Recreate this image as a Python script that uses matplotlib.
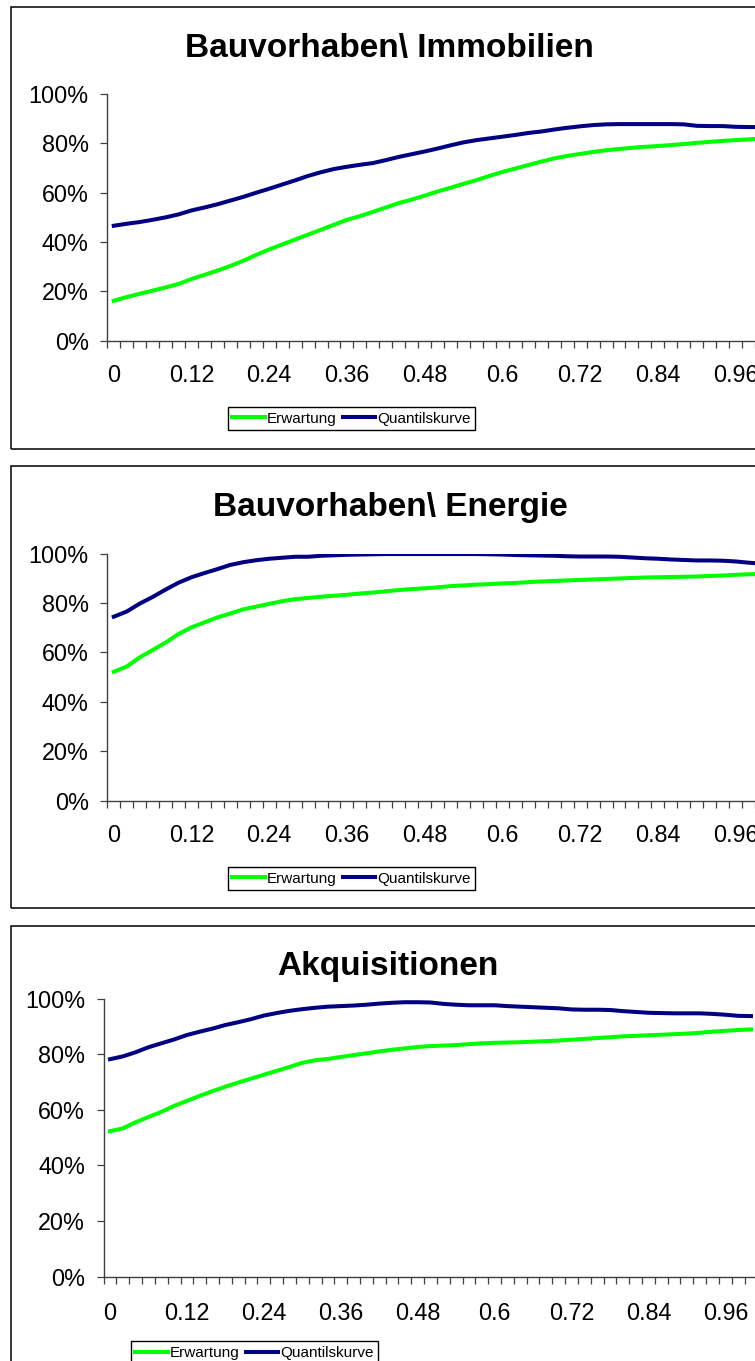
import matplotlib.pyplot as plt
from matplotlib.patches import Rectangle

plt.rcParams['font.family'] = ['Liberation Sans', 'DejaVu Sans']

# categories 0, 0.02, ..., 1.0 (Excel category axis)
levels = ['0', '0.02', '0.04', '0.06', '0.08', '0.1', '0.12', '0.14', '0.16', '0.18',
          '0.2', '0.22', '0.24', '0.26', '0.28', '0.3', '0.32', '0.34', '0.36', '0.38',
          '0.4', '0.42', '0.44', '0.46', '0.48', '0.5', '0.52', '0.54', '0.56', '0.58',
          '0.6', '0.62', '0.64', '0.66', '0.68', '0.7', '0.72', '0.74', '0.76', '0.78',
          '0.8', '0.82', '0.84', '0.86', '0.88', '0.9', '0.92', '0.94', '0.96', '0.98', '1']
shown_labels = ['0', '0.12', '0.24', '0.36', '0.48', '0.6', '0.72', '0.84', '0.96']

titles = ['Bauvorhaben\\ Immobilien', 'Bauvorhaben\\ Energie', 'Akquisitionen']

# values in percent
immo_erw = [16.2, 17.7, 19.0, 20.3, 21.6, 23.0, 25.0, 26.7, 28.4, 30.3, 32.4, 34.8, 37.0,
            39.0, 41.0, 43.0, 45.0, 47.0, 49.0, 50.5, 52.2, 54.0, 55.8, 57.2, 58.8, 60.5,
            62.0, 63.6, 65.1, 66.8, 68.4, 69.8, 71.2, 72.6, 73.9, 74.9, 75.7, 76.5, 77.2,
            77.7, 78.2, 78.6, 78.9, 79.3, 79.7, 80.2, 80.6, 81.0, 81.3, 81.6, 82.0]
immo_quant = [46.6, 47.4, 48.1, 49.0, 50.0, 51.2, 52.8, 54.0, 55.3, 56.8, 58.3, 60.0, 61.6,
              63.3, 65.0, 66.8, 68.3, 69.6, 70.5, 71.3, 72.0, 73.2, 74.5, 75.6, 76.7, 77.9,
              79.2, 80.4, 81.3, 82.0, 82.7, 83.4, 84.2, 84.8, 85.6, 86.3, 86.9, 87.4, 87.7,
              87.8, 87.8, 87.8, 87.8, 87.8, 87.7, 87.1, 87.0, 87.0, 86.7, 86.6, 86.6]

energ_erw = [52.2, 54.3, 58.0, 61.0, 64.0, 67.5, 70.2, 72.2, 74.2, 75.8, 77.5, 78.6, 79.7,
             80.8, 81.6, 82.1, 82.6, 83.0, 83.4, 83.9, 84.3, 84.8, 85.3, 85.7, 86.0, 86.4,
             86.9, 87.2, 87.5, 87.7, 88.0, 88.2, 88.5, 88.8, 89.0, 89.2, 89.4, 89.6, 89.8,
             90.0, 90.2, 90.4, 90.5, 90.6, 90.7, 90.8, 91.0, 91.2, 91.5, 91.7, 91.8]
energ_quant = [74.5, 76.6, 79.8, 82.5, 85.5, 88.3, 90.5, 92.2, 93.8, 95.5, 96.6, 97.4, 98.0,
               98.4, 98.8, 98.8, 99.2, 99.4, 99.6, 99.7, 99.8, 99.9, 99.9, 99.9, 99.9, 99.9,
               99.9, 99.9, 99.9, 99.8, 99.7, 99.5, 99.4, 99.3, 99.2, 99.0, 98.9, 98.9, 98.9,
               98.8, 98.5, 98.2, 98.0, 97.7, 97.5, 97.3, 97.3, 97.2, 96.9, 96.4, 96.0]

akq_erw = [52.3, 53.3, 55.5, 57.4, 59.2, 61.4, 63.2, 65.0, 66.7, 68.3, 69.8, 71.2, 72.6,
           74.0, 75.4, 76.9, 77.8, 78.3, 79.0, 79.7, 80.3, 81.0, 81.6, 82.1, 82.6, 82.9,
           83.1, 83.3, 83.6, 83.9, 84.1, 84.2, 84.3, 84.5, 84.7, 84.9, 85.2, 85.5, 85.8,
           86.1, 86.4, 86.6, 86.8, 87.0, 87.2, 87.4, 87.7, 88.1, 88.4, 88.7, 88.9]
akq_quant = [78.2, 79.2, 80.7, 82.5, 83.9, 85.3, 86.9, 88.1, 89.2, 90.5, 91.5, 92.6, 93.9,
             94.8, 95.6, 96.2, 96.7, 97.1, 97.3, 97.5, 97.8, 98.2, 98.5, 98.7, 98.7, 98.6,
             98.1, 97.8, 97.6, 97.6, 97.6, 97.3, 97.1, 96.9, 96.7, 96.5, 96.1, 96.0, 96.0,
             95.9, 95.5, 95.2, 94.9, 94.8, 94.7, 94.7, 94.7, 94.5, 94.2, 93.8, 93.7]

erwartung = [immo_erw, energ_erw, akq_erw]
quantil = [immo_quant, energ_quant, akq_quant]

green = '#00FF00'
navy = '#000080'

W, H = 755, 1361
fig = plt.figure(figsize=(W / 100, H / 100), dpi=100)


def box(left, top, right, bottom):
    return [left / W, 1 - bottom / H, (right - left) / W, (bottom - top) / H]


# frame, axes, title baseline, legend centre (all in pixels), x label pad
panels = [
    dict(frame=(11, 7, 820, 449), axes=(107.3, 94, 768, 340.7), title=(389, 57),
         leg=(351.5, 418.5), pad=17),
    dict(frame=(11, 466, 820, 908), axes=(107.3, 553.8, 768, 800.5), title=(390, 516),
         leg=(351.5, 878.5), pad=17),
    dict(frame=(11, 925.6, 820, 1420), axes=(103.6, 998.6, 757.4, 1276.5), title=(388, 974.5),
         leg=(254.5, 1353), pad=18.5),
]

x = list(range(len(levels)))

for k, p in enumerate(panels):
    fl, ft, fr, fb = p['frame']
    fig.add_artist(Rectangle((fl / W, 1 - fb / H), (fr - fl) / W, (fb - ft) / H,
                             transform=fig.transFigure, fill=False, edgecolor='black', lw=1.1))

    ax = fig.add_axes(box(*p['axes']))
    l1, = ax.plot(x, [v / 100 for v in erwartung[k]], color=green, lw=2.9, label='Erwartung')
    l2, = ax.plot(x, [v / 100 for v in quantil[k]], color=navy, lw=2.9, label='Quantilskurve')
    ax.set_xlim(-0.5, len(levels) - 0.5)
    ax.set_ylim(0, 1)

    ax.set_yticks([0, 0.2, 0.4, 0.6, 0.8, 1.0])
    ax.set_yticklabels(['0%', '20%', '40%', '60%', '80%', '100%'])
    ax.set_xticks([levels.index(s) for s in shown_labels])
    ax.set_xticklabels(shown_labels)
    ax.set_xticks([i - 0.5 for i in range(len(levels) + 1)], minor=True)
    ax.tick_params(axis='x', which='major', length=0, pad=p['pad'], labelsize=16.8)
    ax.tick_params(axis='x', which='minor', length=5, width=0.9, direction='out', color='#404040')
    ax.tick_params(axis='y', length=5, width=0.9, direction='out', pad=8.4, labelsize=16.8, color='#404040')

    for side in ['top', 'right']:
        ax.spines[side].set_visible(False)
    for side in ['left', 'bottom']:
        ax.spines[side].set_color('#404040')
        ax.spines[side].set_linewidth(1.0)

    tx, ty = p['title']
    fig.text(tx / W, 1 - ty / H, titles[k], ha='center', va='baseline',
             fontsize=24, fontweight='bold')

    lx, ly = p['leg']
    fig.legend(handles=[l1, l2], loc='center', bbox_to_anchor=(lx / W, 1 - ly / H),
               bbox_transform=fig.transFigure, ncol=2, fontsize=11, frameon=True,
               fancybox=False, edgecolor='black', framealpha=1, borderpad=0.3,
               handlelength=2.1, handletextpad=0.15, columnspacing=0.4,
               borderaxespad=0)

fig.savefig('out.png', dpi=100)
